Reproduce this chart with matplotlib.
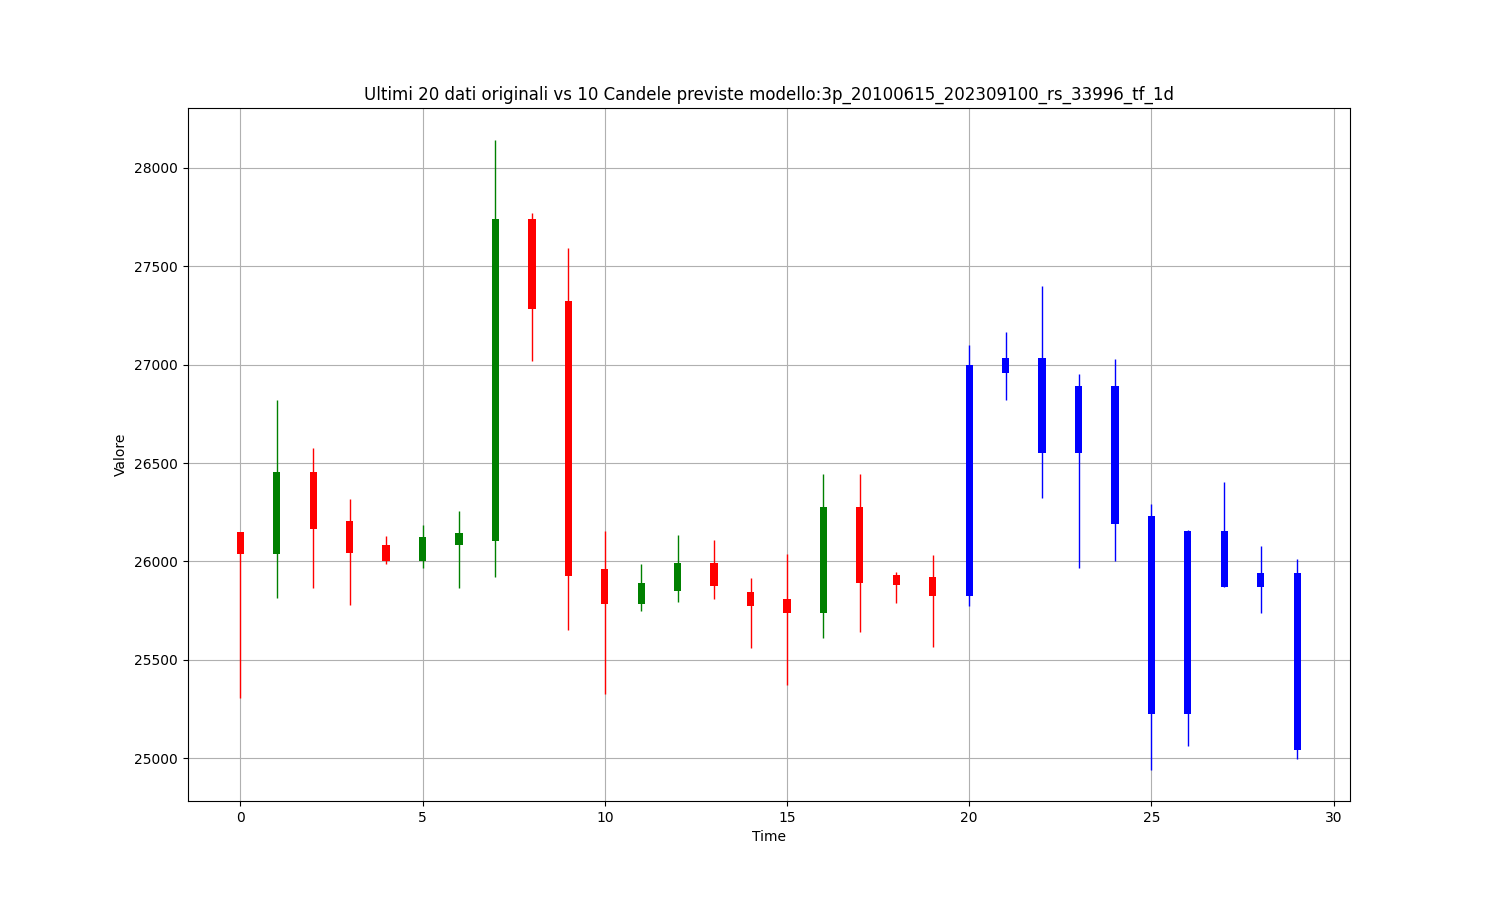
import matplotlib
matplotlib.use("Agg")
import matplotlib.pyplot as plt

time = list(range(30))
opens = [26148, 26039, 26456, 26204, 26082, 26002, 26082, 26103, 27738, 27321,
         25964, 25786, 25852, 25994, 25847, 25811, 25740, 26278, 25933, 25923,
         25826, 26958, 27032, 26890, 26890, 26230, 26154, 26154, 25941, 25941]
closes = [26039, 26456, 26163, 26042, 26002, 26123, 26143, 27738, 27281, 25927,
          25786, 25893, 25994, 25874, 25772, 25740, 26278, 25893, 25882, 25823,
          26997, 27032, 26552, 26552, 26190, 25227, 25227, 25870, 25870, 25044]
highs = [26148, 26820, 26577, 26315, 26130, 26183, 26254, 28144, 27772, 27592,
         26157, 25989, 26136, 26111, 25918, 26040, 26446, 26446, 25948, 26035,
         27098, 27166, 27399, 26951, 27027, 26291, 26159, 26404, 26079, 26011]
lows = [25305, 25815, 25865, 25779, 25987, 25966, 25865, 25920, 27017, 25653,
        25329, 25750, 25796, 25811, 25558, 25370, 25613, 25644, 25791, 25567,
        25775, 26819, 26322, 25966, 26002, 24943, 25064, 25870, 25740, 24997]
n_original = 20

fig, ax = plt.subplots(figsize=(15, 9), dpi=100)
ax.set_axisbelow(True)
ax.grid(True)

for t, o, c, h, l in zip(time, opens, closes, highs, lows):
    if t >= n_original:
        col = 'blue'
    else:
        col = 'green' if c >= o else 'red'
    ax.vlines(t, l, h, color=col, linewidth=1)
    ax.bar(t, abs(c - o), bottom=min(o, c), width=0.2, color=col)

ax.set_xlim(-1.45, 30.45)
ax.set_xlabel('Time')
ax.set_ylabel('Valore')
ax.set_title('Ultimi 20 dati originali vs 10 Candele previste modello:3p_20100615_202309100_rs_33996_tf_1d')

fig.savefig('out.png', dpi=100)
